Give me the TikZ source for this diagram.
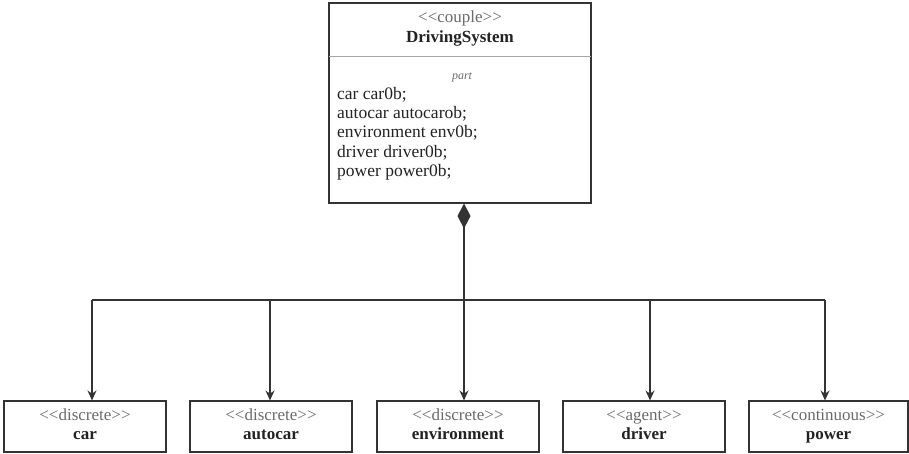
\documentclass[tikz,border=0pt]{standalone}
\usepackage{fontspec}
\setmainfont{Liberation Serif}
\usetikzlibrary{arrows.meta}
\definecolor{frame}{HTML}{333333}
\definecolor{stereo}{HTML}{6A6A6A}
\definecolor{ink}{HTML}{222222}
\newcommand{\stereo}[1]{<{}<#1>{}>}
\tikzset{
  classbox/.style={draw=frame, line width=1.1pt, minimum width=162pt, minimum height=51pt, inner sep=0pt},
  stereotxt/.style={text=stereo, font=\fontsize{17}{19}\selectfont, anchor=mid, inner sep=0pt},
  nametxt/.style={text=ink, font=\fontsize{17}{19}\selectfont\bfseries, anchor=mid, inner sep=0pt},
  link/.style={draw=frame, line width=1.1pt},
  arrowlink/.style={link, -{Stealth[length=10pt,width=9pt]}},
}
\begin{document}
\begin{tikzpicture}[x=1pt, y=-1pt]
\path[use as bounding box] (0,0) rectangle (909,454);

% composite class
\node[draw=frame, line width=1.1pt, minimum width=262pt, minimum height=200pt, inner sep=0pt] (sys) at (460,103) {};
\draw[draw=gray!70, line width=1pt] (329,57) -- (591,57);
\node[stereotxt] (sysst) at (460,20) {\stereo{couple}};
\node[nametxt] (sysname) at (460,40) {DrivingSystem};
\node[text=stereo, font=\fontsize{12}{14}\selectfont\itshape, anchor=mid, inner sep=0pt] (part) at (462,77) {part};
\node[text=ink, font=\fontsize{17.5}{19.3}\selectfont, align=left, anchor=north west, inner sep=0pt] (attrs) at (337,87)
  {car car0b;\\autocar autocarob;\\environment env0b;\\driver driver0b;\\power power0b;};

% component classes
\node[classbox] (car) at (85,426.5) {};
\node[stereotxt] at (85,418) {\stereo{discrete}};
\node[nametxt] at (85,437) {car};

\node[classbox] (autocar) at (271,426.5) {};
\node[stereotxt] at (271,418) {\stereo{discrete}};
\node[nametxt] at (271,437) {autocar};

\node[classbox] (env) at (458,426.5) {};
\node[stereotxt] at (458,418) {\stereo{discrete}};
\node[nametxt] at (458,437) {environment};

\node[classbox] (driver) at (644,426.5) {};
\node[stereotxt] at (644,418) {\stereo{agent}};
\node[nametxt] at (644,437) {driver};

\node[classbox, minimum width=159pt] (power) at (828.5,426.5) {};
\node[stereotxt] at (828.5,418) {\stereo{continuous}};
\node[nametxt] at (828.5,437) {power};

% composition connectors
\coordinate (hub) at (464,300);
\coordinate (jcar) at (92,300);
\coordinate (jauto) at (270,300);
\coordinate (jdrv) at (650,300);
\coordinate (jpow) at (825,300);
\draw[link, {Diamond[length=25pt,width=13pt]}-] (sys.south -| hub) -- (hub);
\draw[link] (jcar) -- (jpow);
\draw[arrowlink] (jcar) -- (jcar |- car.north);
\draw[arrowlink] (jauto) -- (jauto |- autocar.north);
\draw[arrowlink] (hub) -- (hub |- env.north);
\draw[arrowlink] (jdrv) -- (jdrv |- driver.north);
\draw[arrowlink] (jpow) -- (jpow |- power.north);
\end{tikzpicture}
\end{document}
